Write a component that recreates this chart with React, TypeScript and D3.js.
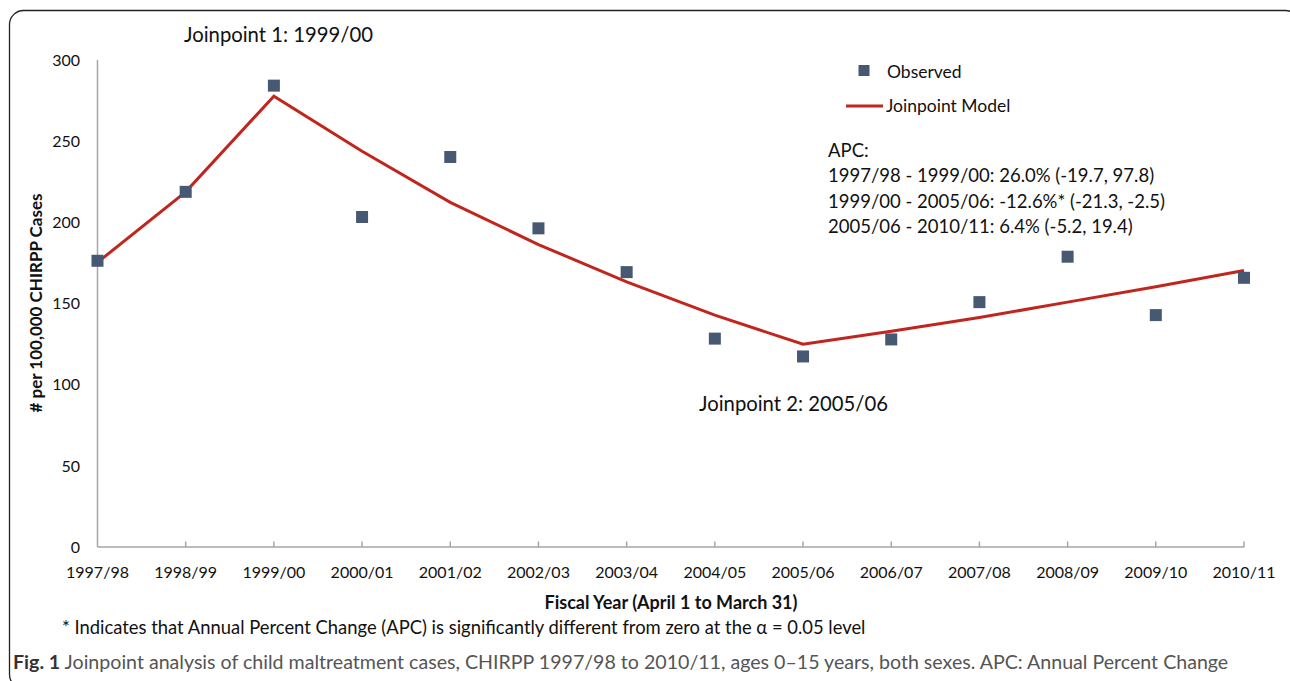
import React from 'react';
import * as d3 from 'd3';

// Fiscal years on the x axis
const years = [
  '1997/98', '1998/99', '1999/00', '2000/01', '2001/02', '2002/03', '2003/04',
  '2004/05', '2005/06', '2006/07', '2007/08', '2008/09', '2009/10', '2010/11',
];

// Observed rates per 100,000 CHIRPP cases
const observed = [176.5, 219, 284.5, 203.5, 240.5, 196.5, 169.5, 128.5, 117.5, 128, 151, 179, 143, 166];

// Joinpoint model fit
const model = [175.5, 219, 278, 244, 212.5, 186.5, 163.5, 143, 125, 133, 141.5, 151, 160.5, 170.5];

const yTicks = [0, 50, 100, 150, 200, 250, 300];

const apcLines = [
  'APC:',
  '1997/98 - 1999/00: 26.0% (-19.7, 97.8)',
  '1999/00 - 2005/06: -12.6%* (-21.3, -2.5)',
  '2005/06 - 2010/11: 6.4% (-5.2, 19.4)',
];

const W = 1290;
const H = 681;
const FONT = 'Lato, "Open Sans", sans-serif';
const MARKER = '#475872';
const LINE = '#c0261d';
const AXIS = '#a6a6a6';

export default function App() {
  const x = d3.scalePoint<string>().domain(years).range([97.5, 1244]);
  const y = d3.scaleLinear().domain([0, 300]).range([547, 60.5]);

  const line = d3.line<number>()
    .x((_, i) => x(years[i]) as number)
    .y(d => y(d));

  const ms = 12;

  return (
    <div style={{ position: 'fixed', left: 0, top: 0 }}>
      <svg width={W} height={H} style={{ display: 'block', fontFamily: FONT }}>
        <rect x={0} y={0} width={W} height={H} fill="#fff" />
        {/* outer frame, bottom and right cut off by the page */}
        <rect x={9.5} y={10.5} width={1290} height={678} rx={14} fill="none" stroke="#222" strokeWidth={1.3} />

        {/* axes */}
        <line x1={97.5} x2={97.5} y1={60} y2={547} stroke={AXIS} strokeWidth={1.5} />
        <line x1={97.5} x2={1244.5} y1={547} y2={547} stroke={AXIS} strokeWidth={1.5} />
        {years.slice(1).map(yr => (
          <line key={yr} x1={x(yr)} x2={x(yr)} y1={541.5} y2={547} stroke={AXIS} strokeWidth={1.5} />
        ))}

        {yTicks.map(t => (
          <text key={t} x={80} y={y(t)} dy="0.35em" textAnchor="end" fontSize={16} fill="#111">{t}</text>
        ))}
        {years.map(yr => (
          <text key={yr} x={x(yr)} y={578} textAnchor="middle" fontSize={16} fill="#111">{yr}</text>
        ))}

        {/* model line */}
        <path d={line(model) ?? ''} fill="none" stroke={LINE} strokeWidth={3} strokeLinejoin="miter" />

        {/* observed markers */}
        {observed.map((v, i) => (
          <rect key={i} x={(x(years[i]) as number) - ms / 2} y={y(v) - ms / 2} width={ms} height={ms} fill={MARKER} />
        ))}

        {/* axis titles */}
        <text transform="translate(42,303) rotate(-90)" textAnchor="middle" fontSize={17} fontWeight="bold" fill="#111">
          # per 100,000 CHIRPP Cases
        </text>
        <text x={671} y={609} textAnchor="middle" fontSize={18} fontWeight="bold" fill="#111">
          Fiscal Year (April 1 to March 31)
        </text>

        {/* annotations */}
        <text x={184} y={42} fontSize={20.3} fill="#111">Joinpoint 1: 1999/00</text>
        <text x={699} y={411} fontSize={20.3} fill="#111">Joinpoint 2: 2005/06</text>

        {/* legend */}
        <rect x={858.5} y={65} width={11} height={11} fill={MARKER} />
        <text x={887} y={78} fontSize={17.5} fill="#111">Observed</text>
        <line x1={846} x2={883} y1={106} y2={106} stroke={LINE} strokeWidth={3} />
        <text x={886} y={112} fontSize={17.5} fill="#111">Joinpoint Model</text>

        {apcLines.map((t, i) => (
          <text key={i} x={828} y={157 + i * 25.3} fontSize={18.5} fill="#111">{t}</text>
        ))}

        {/* footnote and caption */}
        <text x={62} y={634} fontSize={18.4} fill="#111">
          * Indicates that Annual Percent Change (APC) is significantly different from zero at the α = 0.05 level
        </text>
        <text x={13} y={669} fontSize={19.6} fill="#555">
          <tspan fontWeight="bold" fill="#333">Fig. 1</tspan>
          <tspan> Joinpoint analysis of child maltreatment cases, CHIRPP 1997/98 to 2010/11, ages 0–15 years, both sexes. APC: Annual Percent Change</tspan>
        </text>
      </svg>
    </div>
  );
}
